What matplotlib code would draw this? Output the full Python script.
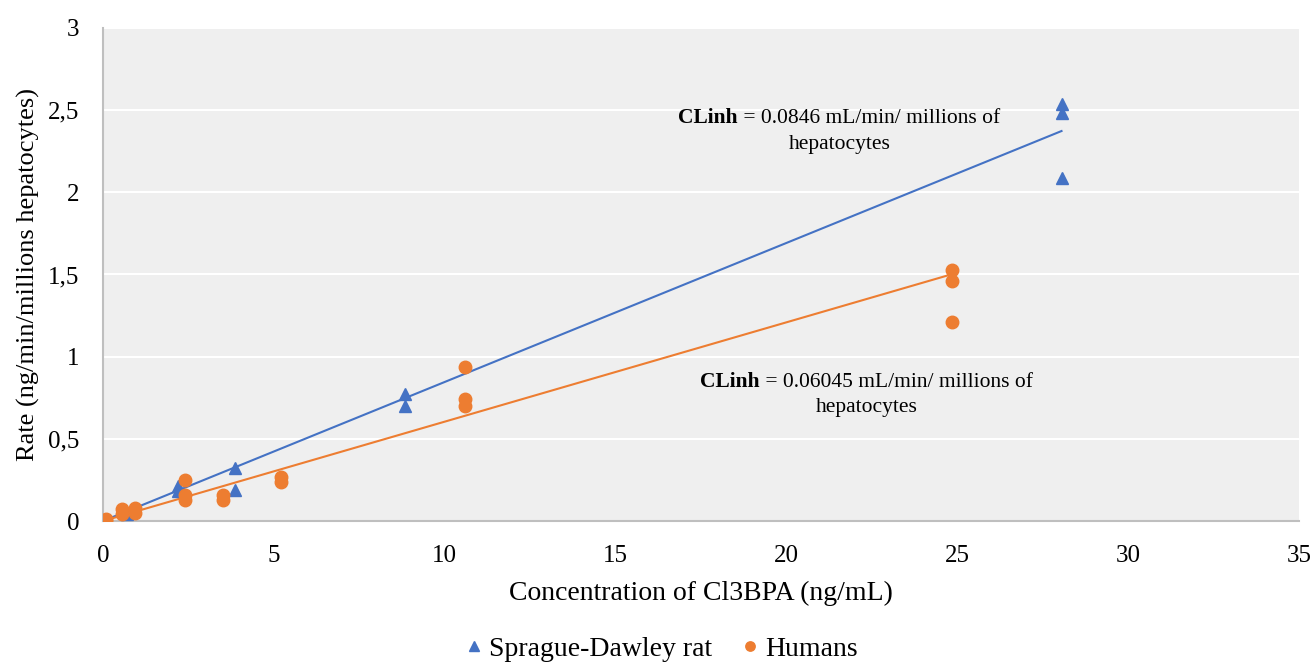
import numpy as np
import matplotlib.pyplot as plt
from matplotlib.ticker import FuncFormatter

plt.rcParams['font.family'] = ['Liberation Serif', 'DejaVu Serif']

# rat hepatocytes
rat_conc = [0.1, 0.1, 0.7, 0.7, 2.2, 2.2, 3.85, 3.85, 8.85, 8.85, 28.05, 28.05, 28.05]
rat_rate = [0.0, 0.01, 0.04, 0.05, 0.21, 0.18, 0.32, 0.19, 0.77, 0.70, 2.54, 2.48, 2.09]

# human hepatocytes
hum_conc = [0.1, 0.1, 0.55, 0.55, 0.95, 0.95, 2.4, 2.4, 2.4, 3.5, 3.5, 5.2, 5.2,
            10.6, 10.6, 10.6, 24.85, 24.85, 24.85]
hum_rate = [0.01, 0.0, 0.07, 0.04, 0.08, 0.05, 0.25, 0.16, 0.13, 0.16, 0.13, 0.27, 0.24,
            0.94, 0.74, 0.70, 1.53, 1.46, 1.21]

# slopes of the fits through the origin
rat_slope = 0.0846
hum_slope = 0.06045

blue = '#4472C4'
orange = '#ED7D31'

fig = plt.figure(figsize=(13.16, 6.65), dpi=100)
ax = fig.add_axes([103/1316, 1-521/665, (1299-103)/1316, (521-28)/665])
ax.set_facecolor('#EFEFEF')

ax.plot(rat_conc, rat_rate, linestyle='none', marker='^', ms=9, color=blue,
        label='Sprague-Dawley rat', zorder=3)
ax.plot(hum_conc, hum_rate, linestyle='none', marker='o', ms=9, color=orange,
        label='Humans', zorder=3)

xr = np.array([0, max(rat_conc)])
ax.plot(xr, rat_slope*xr, color=blue, lw=1.5, zorder=2)
xh = np.array([0, max(hum_conc)])
ax.plot(xh, hum_slope*xh, color=orange, lw=1.5, zorder=2)

ax.set_xlim(0, 35)
ax.set_ylim(0, 3)
ax.set_xticks(np.arange(0, 36, 5))
ax.set_yticks(np.arange(0, 3.01, 0.5))
ax.yaxis.set_major_formatter(FuncFormatter(lambda v, p: ('%g' % v).replace('.', ',')))
ax.grid(axis='y', color='white', lw=1.5)
ax.set_axisbelow(True)
ax.tick_params(length=0, labelsize=18, pad=17)
ax.tick_params(axis='y', pad=17)

for s in ['top', 'right']:
    ax.spines[s].set_visible(False)
for s in ['left', 'bottom']:
    ax.spines[s].set_color('#BFBFBF')
    ax.spines[s].set_linewidth(1.5)

ax.set_xlabel('Concentration of Cl3BPA (ng/mL)', fontsize=20, labelpad=10)
ax.set_ylabel('Rate (ng/min/millions hepatocytes)', fontsize=19, labelpad=6)

fig.canvas.draw()
# bold label followed by regular text, two-line note centred under it
def note(xc, y1, y2, val):
    t1 = ax.text(0, y1, 'CLinh', fontsize=15.5, fontweight='bold', va='center')
    t2 = ax.text(0, y1, ' = %s mL/min/ millions of' % val, fontsize=15.5, va='center')
    r = fig.canvas.get_renderer()
    w1 = t1.get_window_extent(r).width
    w2 = t2.get_window_extent(r).width
    x0 = ax.transData.transform((xc, 0))[0] - (w1 + w2) / 2
    inv = ax.transData.inverted()
    t1.set_x(inv.transform((x0, 0))[0])
    t2.set_x(inv.transform((x0 + w1, 0))[0])
    ax.text(xc, y2, 'hepatocytes', fontsize=15.5, ha='center', va='center')

note(21.55, 2.45, 2.29, '0.0846')
note(22.35, 0.845, 0.69, '0.06045')

ax.legend(loc='center', bbox_to_anchor=(0.4666, -0.26), ncol=2, frameon=False,
          fontsize=20, handlelength=0.7, handletextpad=0.2, columnspacing=1.0,
          markerscale=0.75)

fig.savefig('out.png', dpi=100)
